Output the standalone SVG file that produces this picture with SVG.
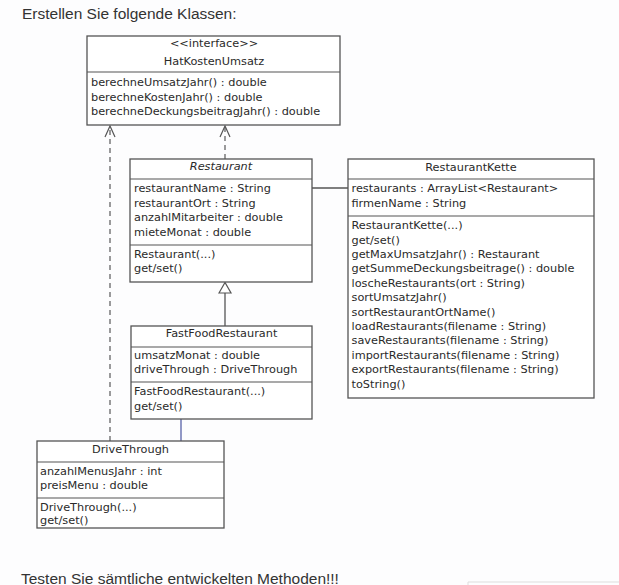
<svg xmlns="http://www.w3.org/2000/svg" width="619" height="585" viewBox="0 0 619 585">
<style>
.bg{fill:#fdfdfe}
.box{fill:#ffffff;stroke:#555555;stroke-width:1.3}
.div{stroke:#555555;stroke-width:1.2}
.t{font-family:"DejaVu Sans",sans-serif;font-size:11.3px;fill:#2a2a2a}
.c{text-anchor:middle}
.i{font-style:italic}
.h{font-family:"Liberation Sans",Arial,sans-serif;font-size:15.5px;fill:#333333}
.dash{fill:none;stroke:#666666;stroke-width:1.3;stroke-dasharray:5,4}
.solid{fill:none;stroke:#555555;stroke-width:1.3}
.head{fill:none;stroke:#555555;stroke-width:1.2}
.trih{fill:#ffffff;stroke:#555555;stroke-width:1.2}
.blue{fill:none;stroke:#4a55a0;stroke-width:1.2}
</style>
<rect class="bg" x="0" y="0" width="619" height="585"/>
<text class="h" x="22" y="19">Erstellen Sie folgende Klassen:</text>

<g id="connectors">
<line class="dash" x1="110" y1="441" x2="110" y2="127"/>
<path class="head" d="M105,137 L110,126 L115,137"/>
<line class="dash" x1="225" y1="159" x2="225" y2="127"/>
<path class="head" d="M220,137 L225,126 L230,137"/>
<line class="solid" x1="225" y1="326" x2="225" y2="293"/>
<path class="trih" d="M219,293 L225,282.5 L231,293 Z"/>
<line class="solid" x1="312" y1="188" x2="348" y2="188"/>
<line class="blue" x1="181" y1="419" x2="181" y2="441"/>
</g>

<g id="HatKostenUmsatz">
<rect class="box" x="87" y="36" width="253" height="89"/>
<line class="div" x1="87" y1="72" x2="340" y2="72"/>
<text class="t c" x="214" y="47">&lt;&lt;interface&gt;&gt;</text>
<text class="t c" x="214" y="65">HatKostenUmsatz</text>
<text class="t" x="91" y="86">berechneUmsatzJahr() : double</text>
<text class="t" x="91" y="100.5">berechneKostenJahr() : double</text>
<text class="t" x="91" y="115">berechneDeckungsbeitragJahr() : double</text>
</g>

<g id="Restaurant">
<rect class="box" x="130" y="159" width="182" height="123"/>
<line class="div" x1="130" y1="179" x2="312" y2="179"/>
<line class="div" x1="130" y1="245" x2="312" y2="245"/>
<text class="t c i" x="221" y="170">Restaurant</text>
<text class="t" x="134" y="192">restaurantName : String</text>
<text class="t" x="134" y="206.5">restaurantOrt : String</text>
<text class="t" x="134" y="221">anzahlMitarbeiter : double</text>
<text class="t" x="134" y="235.5">mieteMonat : double</text>
<text class="t" x="134" y="257.5">Restaurant(...)</text>
<text class="t" x="134" y="272">get/set()</text>
</g>

<g id="RestaurantKette">
<rect class="box" x="348" y="159" width="246" height="239"/>
<line class="div" x1="348" y1="179" x2="594" y2="179"/>
<line class="div" x1="348" y1="216" x2="594" y2="216"/>
<text class="t c" x="471" y="171">RestaurantKette</text>
<text class="t" x="351.5" y="192">restaurants : ArrayList&lt;Restaurant&gt;</text>
<text class="t" x="351.5" y="206.5">firmenName : String</text>
<text class="t" x="351.5" y="229">RestaurantKette(...)</text>
<text class="t" x="351.5" y="243.5">get/set()</text>
<text class="t" x="351.5" y="257.5">getMaxUmsatzJahr() : Restaurant</text>
<text class="t" x="351.5" y="272">getSummeDeckungsbeitrage() : double</text>
<text class="t" x="351.5" y="286.5">loscheRestaurants(ort : String)</text>
<text class="t" x="351.5" y="301">sortUmsatzJahr()</text>
<text class="t" x="351.5" y="315.5">sortRestaurantOrtName()</text>
<text class="t" x="351.5" y="330">loadRestaurants(filename : String)</text>
<text class="t" x="351.5" y="344">saveRestaurants(filename : String)</text>
<text class="t" x="351.5" y="358.5">importRestaurants(filename : String)</text>
<text class="t" x="351.5" y="373">exportRestaurants(filename : String)</text>
<text class="t" x="351.5" y="387.5">toString()</text>
</g>

<g id="FastFoodRestaurant">
<rect class="box" x="131" y="326" width="181" height="93"/>
<line class="div" x1="131" y1="347" x2="312" y2="347"/>
<line class="div" x1="131" y1="382" x2="312" y2="382"/>
<text class="t c" x="221.5" y="337">FastFoodRestaurant</text>
<text class="t" x="134" y="359">umsatzMonat : double</text>
<text class="t" x="134" y="373">driveThrough : DriveThrough</text>
<text class="t" x="134" y="395">FastFoodRestaurant(...)</text>
<text class="t" x="134" y="410">get/set()</text>
</g>

<g id="DriveThrough">
<rect class="box" x="37" y="441" width="187" height="87"/>
<line class="div" x1="37" y1="462" x2="224" y2="462"/>
<line class="div" x1="37" y1="498" x2="224" y2="498"/>
<text class="t c" x="130.5" y="452.5">DriveThrough</text>
<text class="t" x="40" y="475">anzahlMenusJahr : int</text>
<text class="t" x="40" y="489">preisMenu : double</text>
<text class="t" x="40" y="510.5">DriveThrough(...)</text>
<text class="t" x="40" y="524">get/set()</text>
</g>

<text class="h" x="21" y="583.5">Testen Sie sämtliche entwickelten Methoden!!!</text>
<path d="M468,585 L468,582 L619,582" fill="none" stroke="#dddddd" stroke-width="1"/>
</svg>
